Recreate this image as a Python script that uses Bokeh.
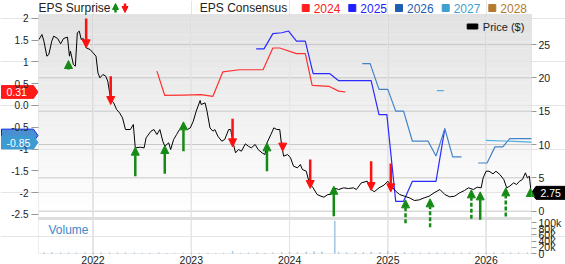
import numpy as np
from bokeh.plotting import figure
from bokeh.models import (Range1d, LinearAxis, FixedTicker, Label, Arrow, NormalHead,
                          ColumnDataSource, BoxAnnotation)
from bokeh.embed import file_html
from bokeh.resources import INLINE

nan = float("nan")
FONT = "Liberation Sans"

# ---------------- data ----------------
year_ticks = [2022, 2023, 2024, 2025, 2026]
year_labels = ["2022", "2023", "2024", "2025", "2026"]
eps_ticks = [2, 1.5, 1, 0.5, 0, -0.5, -1, -1.5, -2, -2.5]
eps_tick_labels = ["2", "1.5", "1", "0.5", "0.0", "-0.5", "-1", "-1.5", "-2", "-2.5"]
price_ticks = [0, 5, 10, 15, 20, 25]
price_tick_labels = ["0", "5", "10", "15", "20", "25"]
vol_ticks = [0, 20, 40, 60, 80, 100]          # thousands of shares
vol_tick_labels = ["0", "20k", "40k", "60k", "80k", "100k"]

price_year = [2021.45, 2021.48, 2021.50, 2021.53, 2021.55, 2021.58, 2021.60, 2021.64, 2021.67, 2021.70,
              2021.74, 2021.76, 2021.77, 2021.80, 2021.82, 2021.84, 2021.86, 2021.88, 2021.90, 2021.93,
              2021.97, 2022.00, 2022.03, 2022.05, 2022.07, 2022.10, 2022.13, 2022.15, 2022.18, 2022.21,
              2022.24, 2022.27, 2022.30, 2022.33, 2022.38, 2022.41, 2022.43, 2022.48, 2022.52, 2022.54,
              2022.59, 2022.62, 2022.65, 2022.68, 2022.71, 2022.73, 2022.77, 2022.79, 2022.82, 2022.85,
              2022.88, 2022.92, 2022.96, 2022.99, 2023.02, 2023.05, 2023.09, 2023.10, 2023.14, 2023.16,
              2023.19, 2023.22, 2023.24, 2023.27, 2023.31, 2023.34, 2023.38, 2023.40, 2023.43, 2023.45,
              2023.48, 2023.51, 2023.55, 2023.58, 2023.61, 2023.65, 2023.68, 2023.72, 2023.75, 2023.77,
              2023.81, 2023.84, 2023.87, 2023.90, 2023.92, 2023.94, 2023.98, 2024.01, 2024.04, 2024.08,
              2024.11, 2024.13, 2024.17, 2024.20, 2024.24, 2024.28, 2024.32, 2024.35, 2024.39, 2024.42,
              2024.45, 2024.50, 2024.55, 2024.60, 2024.65, 2024.68, 2024.73, 2024.79, 2024.82, 2024.86,
              2024.91, 2024.96, 2025.00, 2025.05, 2025.08, 2025.12, 2025.17, 2025.22, 2025.27, 2025.32,
              2025.37, 2025.42, 2025.47, 2025.53, 2025.58, 2025.63, 2025.68, 2025.73, 2025.78, 2025.82,
              2025.87, 2025.91, 2025.95, 2025.97, 2026.00, 2026.03, 2026.07, 2026.10, 2026.14, 2026.18,
              2026.21, 2026.24, 2026.28, 2026.31, 2026.34, 2026.37, 2026.40, 2026.42, 2026.44, 2026.455,
              2026.462]
price_usd = [25.75, 26.5, 25.5, 23.25, 23.5, 25.5, 26.25, 25.9, 25.1, 25.9,
             26.1, 23.25, 24.0, 22.0, 21.75, 26.75, 27.0, 25.75, 25.9, 24.5,
             24.25, 23.75, 23.25, 20.75, 20.0, 20.5, 20.25, 19.5, 16.75, 16.25,
             15.25, 14.75, 14.0, 12.25, 12.25, 13.0, 9.5, 9.6, 9.5, 11.0,
             12.0, 12.25, 11.5, 12.25, 10.5, 9.75, 10.25, 9.25, 10.75, 11.5,
             12.25, 13.0, 12.25, 12.5, 13.5, 15.0, 16.6, 16.0, 16.25, 15.0,
             12.5, 12.0, 12.25, 11.25, 10.5, 10.75, 12.25, 12.25, 10.0, 8.75,
             9.25, 9.0, 10.1, 9.75, 9.5, 10.0, 9.25, 8.75, 8.5, 10.25,
             11.5, 12.5, 12.25, 12.25, 9.75, 8.25, 8.5, 8.0, 6.75, 6.5,
             7.0, 6.25, 6.0, 4.25, 3.5, 2.5, 2.25, 2.1, 2.5, 2.5,
             3.5, 3.25, 3.5, 3.4, 3.5, 3.25, 4.25, 4.5, 3.5, 2.9,
             3.5, 3.9, 4.5, 3.5, 3.0, 2.5, 2.25, 2.0, 1.6, 1.7,
             2.0, 2.25, 2.75, 3.25, 2.5, 2.15, 2.25, 2.75, 3.1, 3.5,
             3.25, 3.6, 3.5, 5.0, 6.0, 6.0, 5.6, 6.0, 5.5, 4.75,
             3.5, 3.75, 4.25, 4.0, 4.5, 4.75, 5.75, 5.0, 5.25, 3.25,
             2.75]
last_price = 2.75

# EPS consensus by fiscal year (nan = gap)
c2024_year = [2022.65, 2022.73, 2022.92, 2023.10, 2023.22, 2023.32, 2023.49, 2023.73, 2023.83, 2023.90,
              2024.07, 2024.16, 2024.23, 2024.40, 2024.50, 2024.57]
c2024_eps = [0.79, 0.23, 0.24, 0.25, 0.21, 0.77, 0.82, 0.82, 1.32, 1.32,
             1.19, 1.19, 0.46, 0.44, 0.33, 0.31]
c2025_year = [2023.66, 2023.74, 2023.83, 2023.92, 2023.99, 2024.07, 2024.16, 2024.24, 2024.41, 2024.50,
              2024.83, 2024.91, 2024.99, 2025.08, 2025.16, 2025.25, 2025.49, 2025.58]
c2025_eps = [1.30, 1.30, 1.65, 1.67, 1.71, 1.48, 1.48, 0.73, 0.73, 0.57,
             0.57, -0.21, -0.21, -2.20, -2.20, -1.74, -1.74, -0.53]
c2026_year = [2024.74, 2024.82, 2024.91, 2025.00, 2025.08, 2025.16, 2025.25, 2025.41, 2025.49, 2025.58,
              2025.66, 2025.75, nan, 2025.92, 2026.01, 2026.09, 2026.17, 2026.24, 2026.462]
c2026_eps = [0.96, 0.96, 0.37, 0.37, -0.13, -0.13, -0.82, -0.82, -1.16, -0.53,
             -1.18, -1.18, nan, -1.32, -1.32, -0.95, -0.95, -0.76, -0.76]
c2027_year = [2025.50, 2025.57, nan, 2026.00, 2026.462]
c2027_eps = [0.34, 0.34, nan, -0.80, -0.84]
tag_eps = {"2024": 0.31, "2026": -0.69, "2027": -0.85}

# EPS surprise arrows: tip sits on the price line, tail length shows surprise size
surp_year = [2021.75, 2021.93, 2022.18, 2022.43, 2022.73, 2022.92, 2023.42, 2023.77, 2023.93, 2024.21,
             2024.45, 2024.83, 2025.03, 2025.18, 2025.43, 2025.85, 2025.94, 2026.20, 2026.45]
surp_dir = ["up", "down", "down", "up", "up", "up", "down", "up", "down", "down",
            "up", "down", "down", "up", "up", "up", "up", "up", "up"]
surp_tip = [22.6, 24.5, 16.0, 9.6, 9.85, 13.4, 9.65, 10.25, 9.0, 3.4,
            3.75, 3.1, 2.9, 1.7, 1.85, 3.2, 2.9, 3.5, 3.4]
surp_tail = [21.25, 28.9, 20.25, 5.25, 5.6, 9.0, 13.85, 6.0, 10.25, 7.75,
             -0.75, 7.5, 7.15, -1.8, -2.4, -1.15, -1.3, -0.8, 2.35]
surp_est = [False, False, False, False, False, False, False, False, False, False,
            False, False, False, True, True, True, False, True, False]

vol_year = [2021.50, 2021.58, 2021.67, 2021.75, 2021.83, 2021.92,
            2022.00, 2022.08, 2022.17, 2022.25, 2022.33, 2022.42, 2022.50, 2022.58, 2022.67, 2022.75, 2022.83, 2022.92,
            2023.00, 2023.08, 2023.17, 2023.25, 2023.33, 2023.42, 2023.50, 2023.58, 2023.67, 2023.75, 2023.83, 2023.92,
            2024.00, 2024.08, 2024.17, 2024.25, 2024.33, 2024.46, 2024.50, 2024.58, 2024.67, 2024.75, 2024.83, 2024.92,
            2025.00, 2025.08, 2025.17, 2025.25, 2025.33, 2025.42, 2025.50, 2025.58, 2025.67, 2025.75, 2025.83, 2025.92,
            2026.00, 2026.08, 2026.17, 2026.25, 2026.33, 2026.42]
vol_k = [2, 3, 2, 2, 2, 2,
         2, 2, 2, 2, 2, 2, 1, 1, 2, 1, 1, 1,
         1, 1, 1, 1, 1, 7, 1, 2, 2, 1, 2, 3,
         4, 3, 5, 6, 5, 105, 4, 3, 3, 3, 4, 3,
         6, 4, 3, 2, 2, 2, 2, 2, 2, 2, 2, 2,
         2, 2, 2, 2, 2, 2]

legend_years = ["2024", "2025", "2026", "2027", "2028"]
legend_colors = ["#ff2020", "#1f1fff", "#1f5fae", "#3fa0d0", "#b37a30"]
line_colors = {"2024": "#ff3030", "2025": "#2a2aff", "2026": "#4482c8", "2027": "#55aee0"}

# ---------------- layout (canvas pixels) ----------------
W, H = 565, 264
L, R, T, B = 38, 531, 14, 253          # plotting area inside the canvas
IX0, IX1 = 2021.445, 2026.462
EPS_LO, EPS_HI = -3.398, 2.089
PX_LO, PX_HI = -6.345, 29.50
VOL_LO, VOL_HI = 0.0, 771.0

ppx = (R - L) / (IX1 - IX0)
pe = (B - T) / (EPS_HI - EPS_LO)
pu = (B - T) / (PX_HI - PX_LO)
pv = (B - T) / (VOL_HI - VOL_LO)
XR0 = IX0 - L / ppx
ER1 = EPS_HI + T / pe

p = figure(width=W, height=H, output_backend="svg", toolbar_location=None, tools="",
           x_range=Range1d(XR0, IX1 + (W - R) / ppx),
           y_range=Range1d(EPS_LO - (H - B) / pe, ER1),
           x_axis_location=None, y_axis_location=None,
           min_border=0, background_fill_color="white", border_fill_color="white",
           outline_line_color=None)
p.title.visible = False
p.extra_y_ranges = {"price": Range1d(PX_LO - (H - B) / pu, PX_HI + T / pu),
                    "vol": Range1d(VOL_LO - (H - B) / pv, VOL_HI + T / pv)}


def xd(xc):        # canvas x -> x data
    return XR0 + xc / ppx


def ed(yc):        # canvas y -> EPS data
    return ER1 - yc / pe


def usd_at(yc):    # canvas y -> price data
    return PX_HI - (yc - T) / pu


def clear_axis_bg(ax):
    props = ax.properties()
    if "background_fill_color" in props:
        ax.background_fill_color = None
    if "background_fill_alpha" in props:
        ax.background_fill_alpha = 0


# background gradient of the price panel
n_b = 30
top_c, bot_c = 226, 255
panel_bottom = 217.0
for i in range(n_b):
    y0 = T + (panel_bottom - T) * i / n_b
    y1 = T + (panel_bottom - T) * (i + 1) / n_b
    g = int(round(top_c + (bot_c - top_c) * (i + 0.5) / n_b))
    p.add_layout(BoxAnnotation(left=IX0, right=IX1, top=usd_at(y0), bottom=usd_at(y1),
                               y_range_name="price", fill_color=(g, g, g), fill_alpha=1,
                               line_color=None, level="image"))

# grid lines from the tick lists
p.segment(x0=year_ticks, x1=year_ticks, y0=[EPS_LO] * len(year_ticks), y1=[EPS_HI] * len(year_ticks),
          line_color="#c8c8c8", line_width=1, level="underlay")
p.segment(x0=[IX0] * len(price_ticks), x1=[IX1] * len(price_ticks), y0=price_ticks, y1=price_ticks,
          y_range_name="price", line_color="#c8c8c8", line_width=1, level="underlay")
# separator between price and volume panels
p.add_layout(BoxAnnotation(left=IX0, right=IX1, top=usd_at(216.5), bottom=usd_at(219.5),
                           y_range_name="price", fill_color="#dedede", fill_alpha=1,
                           line_color=None, level="underlay"))

# axes
xa = LinearAxis(fixed_location=EPS_LO, ticker=FixedTicker(ticks=year_ticks),
                major_label_overrides=dict(zip(year_ticks, year_labels)),
                major_tick_out=0, major_tick_in=0, axis_line_color=None, major_label_standoff=2,
                major_label_text_font=FONT, major_label_text_font_size="10.5px",
                major_label_text_color="#222222")
clear_axis_bg(xa)
p.add_layout(xa, "below")

ya = LinearAxis(fixed_location=IX0, ticker=FixedTicker(ticks=eps_ticks),
                major_label_overrides=dict(zip(eps_ticks, eps_tick_labels)),
                major_tick_out=7, major_tick_in=0, major_tick_line_color="#999999",
                axis_line_color=None, major_label_standoff=3,
                major_label_text_font=FONT, major_label_text_font_size="10px",
                major_label_text_color="#222222")
clear_axis_bg(ya)
p.add_layout(ya, "left")

vol_tick_pos = [PX_LO + (v - VOL_LO) / (VOL_HI - VOL_LO) * (PX_HI - PX_LO) for v in vol_ticks]
ra = LinearAxis(y_range_name="price", fixed_location=IX1,
                ticker=FixedTicker(ticks=price_ticks + vol_tick_pos),
                major_label_overrides=dict(zip(price_ticks + vol_tick_pos,
                                               price_tick_labels + vol_tick_labels)),
                major_tick_out=5, major_tick_in=0, major_tick_line_color="#999999",
                axis_line_color=None, major_label_standoff=2,
                major_label_text_font=FONT, major_label_text_font_size="10.5px",
                major_label_text_color="#222222")
clear_axis_bg(ra)
p.add_layout(ra, "right")

# volume
p.vbar(x=vol_year, top=vol_k, bottom=0, width=0.006, y_range_name="vol",
       fill_color="#a9c8e6", line_color="#a9c8e6")

# consensus lines
p.line(c2024_year, c2024_eps, line_color=line_colors["2024"], line_width=1.2)
p.line(c2025_year, c2025_eps, line_color=line_colors["2025"], line_width=1.2)
p.line(np.array(c2026_year), np.array(c2026_eps), line_color=line_colors["2026"], line_width=1.2)
p.line(np.array(c2027_year), np.array(c2027_eps), line_color=line_colors["2027"], line_width=1.2)

# price
p.line(price_year, price_usd, y_range_name="price", line_color="black", line_width=1)

# surprise arrows
GREEN, RED = "#168a16", "#ff1010"
groups = [("up", False, GREEN, "solid"), ("up", True, GREEN, "4 2"), ("down", False, RED, "solid")]
for d, est, col, dash in groups:
    idx = [i for i in range(len(surp_year)) if surp_dir[i] == d and surp_est[i] == est]
    src = ColumnDataSource(dict(x=[surp_year[i] for i in idx], y0=[surp_tail[i] for i in idx],
                                y1=[surp_tip[i] for i in idx]))
    p.add_layout(Arrow(end=NormalHead(size=8, fill_color=col, line_color=col, line_width=1),
                       x_start="x", y_start="y0", x_end="x", y_end="y1", source=src,
                       y_range_name="price", line_color=col, line_width=2.5, line_dash=dash))

# plot border
p.add_layout(BoxAnnotation(left=IX0, right=IX1, bottom=EPS_LO, top=EPS_HI, fill_alpha=0,
                           line_color="#c4c4c4", line_width=1))


# ---------------- value tags (patch glyphs) ----------------
def left_tag(val, fill, text=None, border=None):
    h = 6.4 / pe
    p.patch(x=[xd(1), xd(33), xd(37.5), xd(33), xd(1)],
            y=[val + h, val + h, val, val - h, val - h],
            fill_color=fill, fill_alpha=1, line_color=border or fill, line_width=1)
    if text:
        p.add_layout(Label(x=6, y=val, x_units="screen", y_units="data", text=text,
                           text_font=FONT, text_font_size="10.5px", text_color="white",
                           text_baseline="middle", level="overlay"))


left_tag(tag_eps["2024"], "#ff1a1a", "0.31")
left_tag(tag_eps["2026"], "#4a8fd2", None, border="#0a28e6")
left_tag(tag_eps["2027"], "#3d9bd2", "-0.85")

hu = 6.5 / pu
p.patch(x=[xd(531), xd(535.5), xd(565), xd(565), xd(535.5)],
        y=[last_price, last_price + hu, last_price + hu, last_price - hu, last_price - hu],
        y_range_name="price", fill_color="black", fill_alpha=1, line_color="black")
p.text(x=[xd(540)], y=[last_price], text=["2.75"], y_range_name="price",
       text_font={"value": FONT}, text_font_size="10.5px", text_color="white",
       text_baseline="middle")


# ---------------- header / legends ----------------
def txt(xc, yc, s, color="#222222", size="12px"):
    p.add_layout(Label(x=xc, y=H - yc, x_units="screen", y_units="screen", text=s,
                       text_font=FONT, text_font_size=size, text_color=color,
                       text_baseline="middle", level="overlay"))


def box(x0, x1, y0, y1, color):
    p.quad(left=xd(x0), right=xd(x1), top=ed(y0), bottom=ed(y1),
           fill_color=color, fill_alpha=1, line_color=color)


txt(38, 7.5, "EPS Surprise")
p.add_layout(Arrow(end=NormalHead(size=6, fill_color=GREEN, line_color=GREEN), x_start=115, y_start=H - 12,
                   x_end=115, y_end=H - 3, start_units="screen", end_units="screen",
                   line_color=GREEN, line_width=2.5, level="overlay"))
p.add_layout(Arrow(end=NormalHead(size=6, fill_color=RED, line_color=RED), x_start=124.5, y_start=H - 3,
                   x_end=124.5, y_end=H - 12, start_units="screen", end_units="screen",
                   line_color=RED, line_width=2.5, level="overlay"))
txt(199.3, 7.5, "EPS Consensus")
leg_x = [301.7, 348.3, 395.0, 441.7, 488.3]
for lx, yr, col in zip(leg_x, legend_years, legend_colors):
    box(lx, lx + 7, 4, 11, col)
    txt(lx + 11.5, 7.5, yr, color=col, size="12px")

box(466.7, 477.3, 23.5, 28.5, "black")
txt(482.3, 26, "Price ($)", size="11px")
txt(48, 229.3, "Volume", color="#3d87c8", size="12px")

open("out.html", "w").write(file_html(p, INLINE))
